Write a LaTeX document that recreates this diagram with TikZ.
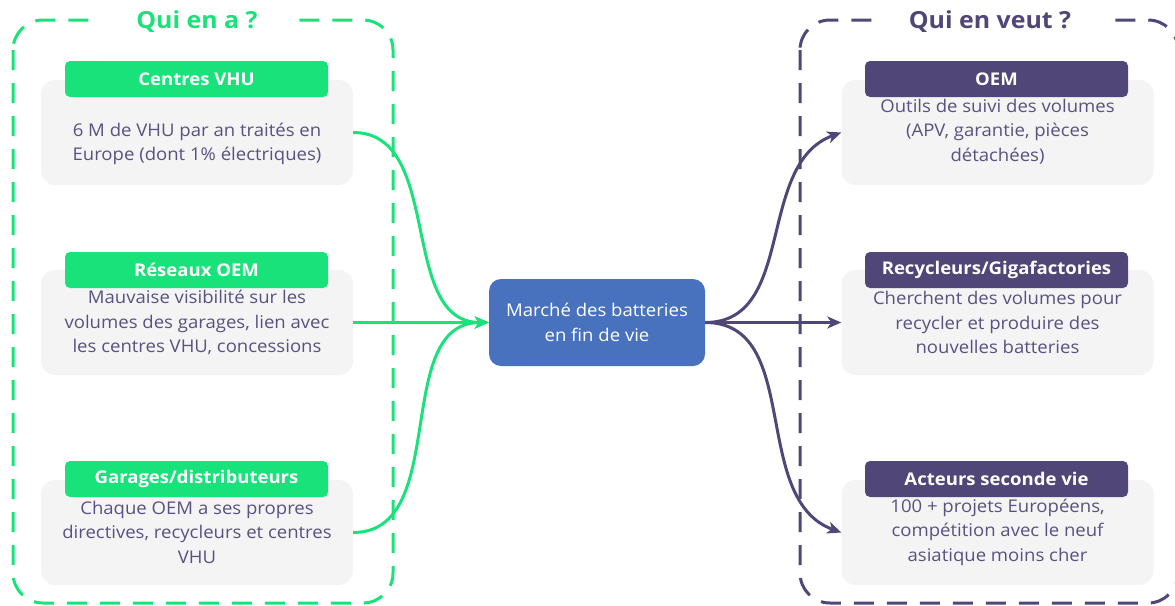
\documentclass[tikz,border=0pt]{standalone}
\usepackage{fontspec}
\setmainfont{Open Sans}[FakeStretch=1.06]
\usetikzlibrary{arrows.meta}
\definecolor{vert}{RGB}{25,226,122}
\definecolor{violet}{RGB}{80,70,120}
\definecolor{texte}{RGB}{88,82,128}
\definecolor{bleu}{RGB}{72,114,190}
\definecolor{fond}{RGB}{244,244,245}
\tikzset{
  cadre/.style={line width=3pt, dash pattern=on 20pt off 13pt, rounded corners=30pt},
  titre/.style={fill=white, inner xsep=36pt, inner ysep=4pt, font=\bfseries\fontsize{23.5}{28}\selectfont},
  carte/.style={fill=fond, rounded corners=14pt, minimum width=312pt, minimum height=105pt, inner sep=0pt},
  entete/.style={rounded corners=5pt, minimum width=263pt, minimum height=36pt, inner sep=0pt,
    text=white, font=\bfseries\fontsize{17.5}{20}\selectfont},
  corps/.style={align=center, text=texte, font=\fontsize{17.5}{24.5}\selectfont, inner sep=0pt},
  lien/.style={line width=3pt, -{Stealth[length=14pt,width=12pt,inset=4pt]}},
}
\begin{document}
\begin{tikzpicture}[x=1pt,y=-1pt]
\useasboundingbox (0,0) rectangle (1175,605);
\clip (0,0) rectangle (1175,605);

% groupe de gauche
\draw[cadre, vert] (13,20) rectangle (393,603);
\node[titre, text=vert] (tg) at (197,22) {Qui en a ?};

\node[carte] (g1) at (197,132.5) {};
\node[carte] (g2) at (197,322.5) {};
\node[carte] (g3) at (197,532.5) {};
\node[entete, fill=vert] (hg1) at (196.5,79) {Centres VHU};
\node[entete, fill=vert] (hg2) at (196.5,270) {Réseaux OEM};
\node[entete, fill=vert] (hg3) at (196.5,479) {Garages/distributeurs};
\node[corps] (tg1) at (197,144) {6 M de VHU par an traités en\\Europe (dont 1\% électriques)};
\node[corps] (tg2) at (197,322.5) {Mauvaise visibilité sur les\\volumes des garages, lien avec\\les centres VHU, concessions};
\node[corps] (tg3) at (197,532) {Chaque OEM a ses propres\\directives, recycleurs et centres\\VHU};

% groupe de droite
\draw[cadre, violet] (800,20) rectangle (1178,603);
\node[titre, text=violet] (td) at (990,22) {Qui en veut ?};

\node[carte] (d1) at (997.5,132.5) {};
\node[carte] (d2) at (997.5,322.5) {};
\node[carte] (d3) at (997.5,532.5) {};
\node[entete, fill=violet] (hd1) at (996.5,79) {OEM};
\node[entete, fill=violet] (hd2) at (996.5,270) {Recycleurs/Gigafactories};
\node[entete, fill=violet] (hd3) at (996.5,479) {Acteurs seconde vie};
\node[corps] (td1) at (997.5,131.5) {Outils de suivi des volumes\\(APV, garantie, pièces\\détachées)};
\node[corps] (td2) at (997.5,322.5) {Cherchent des volumes pour\\recycler et produire des\\nouvelles batteries};
\node[corps] (td3) at (997.5,532) {100 + projets Européens,\\compétition avec le neuf\\asiatique moins cher};

% marché central
\node[fill=bleu, rounded corners=12pt, minimum width=216pt, minimum height=87pt, inner sep=0pt,
  align=center, text=white, font=\fontsize{17.5}{24.5}\selectfont] (c) at (597,322.5)
  {Marché des batteries\\en fin de vie};

% flux entrants
\draw[lien, vert] (g1.east) to[out=0, in=180] (c.west);
\draw[lien, vert] (g2.east) -- (c.west);
\draw[lien, vert] (g3.east) to[out=0, in=180] (c.west);

% flux sortants
\draw[lien, violet] (c.east) to[out=0, in=200] (d1.west);
\draw[lien, violet] (c.east) -- (d2.west);
\draw[lien, violet] (c.east) to[out=0, in=160] (d3.west);
\end{tikzpicture}
\end{document}
